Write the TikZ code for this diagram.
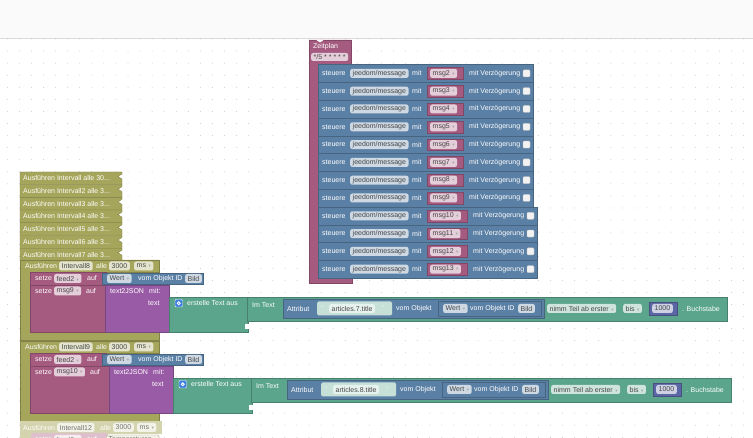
\documentclass[tikz,border=0pt]{standalone}
\usepackage{fontspec}
\setmainfont{Liberation Sans}
\newfontfamily\symfont{DejaVu Sans}
\usetikzlibrary{positioning}

\definecolor{loopcol}{HTML}{A5A55B}
\definecolor{varcol}{HTML}{A55B80}
\definecolor{jeecol}{HTML}{5B80A5}
\definecolor{jsoncol}{HTML}{995BA5}
\definecolor{textcol}{HTML}{5BA58C}
\definecolor{mathcol}{HTML}{5B67A5}
\definecolor{gearcol}{HTML}{3D7FE0}
\definecolor{palecol}{HTML}{D3D3AE}
\definecolor{palevar}{HTML}{DDBFCD}

\tikzset{
  blk/.style={fill=#1, draw=#1!78!black, line width=0.3pt},
  lbl/.style={text=white, anchor=west, inner sep=0pt, font=\fontsize{7}{8}\selectfont},
  fld/.style={fill=#1!30!white, text=black!72, anchor=west, rounded corners=2pt,
    inner xsep=2.5pt, inner ysep=0pt, minimum height=9pt, font=\fontsize{7}{8}\selectfont},
  chk/.style={fill=gray!10, draw=gray!45, line width=0.3pt, rounded corners=1pt},
}
\newcommand*{\ddarrow}{\hspace{2.5pt}{\symfont\fontsize{4.5}{5}\selectfont\color{black!35}▾}}

% one "Ausfuehren" loop with its two setze blocks
% #1 top, #2 interval, #3 variable, #4 attribute, #5 extra width
\newcommand*{\intervallblock}[5]{%
  % loop block
  \fill[blk=loopcol] (20,#1) -- (159,#1) -- (159,#1+12) -- (31,#1+12) -- (31,#1+72)
    -- (159,#1+72) -- (159,#1+80) -- (20,#1+80) -- cycle;
  \node[lbl] (run#2) at (25,#1+6) {Ausführen};
  \node[fld=loopcol] (int#2) at (59,#1+6) {#2};
  \node[lbl] (alle#2) at (96,#1+6) {alle};
  \node[fld=loopcol] (ms#2) at (109,#1+6) {3000};
  \node[fld=loopcol] (unit#2) at (134,#1+6) {ms\ddarrow};
  % setze feed2
  \fill[blk=varcol] (30,#1+12) rectangle (106,#1+25);
  \node[lbl] (setA#2) at (35,#1+18.5) {setze};
  \node[fld=varcol] (feed#2) at (54,#1+18.5) {feed2\ddarrow};
  \node[lbl] (aufA#2) at (87,#1+18.5) {auf};
  \fill[blk=jeecol] (102,#1+13) rectangle (203,#1+24);
  \node[fld=jeecol] (wertA#2) at (107,#1+18.5) {Wert\ddarrow};
  \node[lbl] (objA#2) at (138,#1+18.5) {vom Objekt ID};
  \node[fld=jeecol] (bildA#2) at (185,#1+18.5) {Bild};
  % setze msg
  \fill[blk=varcol] (30,#1+25) rectangle (106+#5,#1+72);
  \node[lbl] (setB#2) at (35,#1+31) {setze};
  \node[fld=varcol] (var#2) at (54,#1+31) {#3\ddarrow};
  \node[lbl] (aufB#2) at (86+#5,#1+31) {auf};
  % text2JSON
  \fill[blk=jsoncol] (105+#5,#1+25) rectangle (169+#5,#1+72);
  \node[lbl] (json#2) at (110+#5,#1+31) {text2JSON};
  \node[lbl] (jmit#2) at (149+#5,#1+31) {mit:};
  \node[lbl] (jtxt#2) at (148+#5,#1+43) {text};
  % erstelle Text aus
  \fill[blk=textcol] (169+#5,#1+37) rectangle (248+#5,#1+72);
  \fill[gearcol, draw=white, line width=0.4pt, rounded corners=1pt] (175+#5,#1+39.5) rectangle +(7.5,7.5);
  \draw[white, line width=0.8pt] (178.75+#5,#1+43.25) circle (1.5);
  \node[lbl] (join#2) at (187+#5,#1+43) {erstelle Text aus};
  % Im Text
  \fill[blk=textcol] (247+#5,#1+37) rectangle (727+#5,#1+61);
  \fill[white] (245+#5,#1+64) -- (249+#5,#1+64) -- (249+#5,#1+69) -- (245+#5,#1+69) -- cycle;
  \node[lbl] (imtext#2) at (252+#5,#1+45) {Im Text};
  \fill[blk=jeecol] (283+#5,#1+39) rectangle (544+#5,#1+58);
  \node[lbl] (attr#2) at (287+#5,#1+48.5) {Attribut};
  \fill[textcol!35!white, rounded corners=1.5pt] (317+#5,#1+41.5) rectangle (392+#5,#1+55.5);
  \node[lbl, text=white!85!textcol] (qa#2) at (321+#5,#1+48.5) {“};
  \node[fld=textcol, fill=white!85!textcol] (title#2) at (329+#5,#1+48.5) {#4};
  \node[lbl, text=white!85!textcol] (qb#2) at (382+#5,#1+48.5) {”};
  \node[lbl] (vom#2) at (396+#5,#1+48.5) {vom Objekt};
  \fill[blk=jeecol] (438+#5,#1+41) rectangle (541+#5,#1+56);
  \node[fld=jeecol] (wertB#2) at (443+#5,#1+48.5) {Wert\ddarrow};
  \node[lbl] (objB#2) at (470+#5,#1+48.5) {vom Objekt ID};
  \node[fld=jeecol] (bildB#2) at (518+#5,#1+48.5) {Bild};
  \node[fld=textcol] (sub#2) at (547+#5,#1+48.5) {nimm Teil ab erster\ddarrow};
  \node[fld=textcol] (bis#2) at (623+#5,#1+48.5) {bis\ddarrow};
  \fill[blk=mathcol] (649+#5,#1+42) rectangle (677+#5,#1+55);
  \node[fld=mathcol] (num#2) at (652+#5,#1+48.5) {1000};
  \node[lbl] (buch#2) at (682+#5,#1+48.5) {. Buchstabe};
}

\begin{document}
\begin{tikzpicture}[x=1pt,y=-1pt]
\useasboundingbox (0,0) rectangle (753,438);
\clip (0,0) rectangle (753,438);

% Toolbar strip and dotted workspace
\fill[gray!4] (0,0) rectangle (753,38.5);
\draw[gray!28, line width=0.6pt] (0,38.5) -- (753,38.5);
\foreach \gx in {0,...,62}
  \foreach \gy in {0,...,33}
    \fill[gray!45] (7.3+12.07*\gx,39+12.07*\gy) circle (0.5);

% Zeitplan block
\fill[blk=varcol] (309,40) -- (351,40) -- (351,64.5) -- (320,64.5) -- (320,278)
  -- (352,278) -- (352,283) -- (309,283) -- cycle;
\fill[white] (316,39.8) -- (324,39.8) -- (320,42.5) -- cycle;
\node[lbl] (zeit) at (313,46.5) {Zeitplan};
\node[fld=varcol, minimum height=8pt] (cron) at (311,57) {*/5 * * * * *};

% steuere rows
\foreach \m [count=\i from 0] in {2,...,13} {
  \pgfmathsetmacro{\yt}{64.5+17.8*\i}
  \pgfmathsetmacro{\ym}{\yt+8.9}
  \pgfmathsetmacro{\dw}{\m>9 ? 4 : 0}
  \fill[blk=jeecol] (318,\yt) rectangle (533+\dw,\yt+17.8);
  \node[lbl] (st\m) at (322,\ym) {steuere};
  \node[fld=jeecol] (topic\m) at (350,\ym) {jeedom/message};
  \node[lbl] (mit\m) at (412,\ym) {mit};
  \fill[blk=varcol] (427,\yt+3) rectangle (463+\dw,\yt+14.8);
  \node[fld=varcol] (msg\m) at (430,\ym) {msg\m\ddarrow};
  \node[lbl] (delay\m) at (469+\dw,\ym) {mit Verzögerung};
  \fill[chk] (523+\dw,\ym-3.5) rectangle +(7,7);
}

% collapsed interval blocks
\foreach \n/\d [count=\i from 0] in {Intervall/30, Intervall2/3, Intervall3/3,
    Intervall4/3, Intervall5/3, Intervall6/3, Intervall7/3} {
  \pgfmathsetmacro{\yt}{172+12.7*\i}
  \fill[blk=loopcol] (20,\yt) -- (122,\yt) -- (122,\yt+2) -- (118,\yt+4.5) -- (122,\yt+7)
    -- (122,\yt+12.7) -- (20,\yt+12.7) -- cycle;
  \node[lbl] (col\i) at (23,\yt+6.35) {Ausführen \n\ alle \d...};
}

% expanded interval blocks
\intervallblock{260}{Intervall8}{msg9}{articles.7.title}{0}
\intervallblock{341}{Intervall9}{msg10}{articles.8.title}{4}

% dragged block, faded
\fill[palecol] (20,421) rectangle (162,434);
\fill[palecol] (20,434) rectangle (31,440);
\node[lbl] (run12) at (23,427.5) {Ausführen};
\node[fld=palecol, text=black!55] (int12) at (57,427.5) {Intervall12};
\node[lbl] (alle12) at (100,427.5) {alle};
\node[fld=palecol, text=black!55] (ms12) at (113,427.5) {3000};
\node[fld=palecol, text=black!55] (unit12) at (137,427.5) {ms\ddarrow};
\fill[palevar, rounded corners=2pt] (31,433) rectangle (108,446);
\node[lbl] (set12) at (35,439.5) {setze};
\node[fld=palevar, text=black!55] (feed12) at (54,439.5) {feed2\ddarrow};
\node[lbl] (auf12) at (87,439.5) {auf};
\node[fld=palecol, draw=palecol!80!black, text=black!55] (temp12) at (106,439.5) {Temperaturen\ddarrow};

\end{tikzpicture}
\end{document}
